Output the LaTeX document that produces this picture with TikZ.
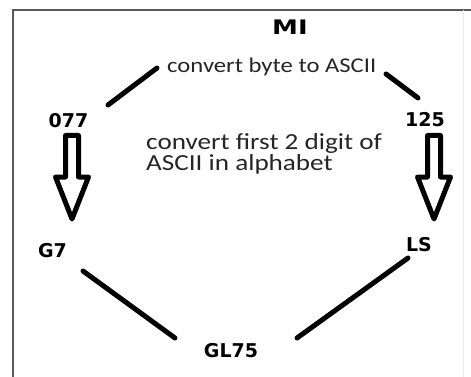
\documentclass[tikz,border=0pt]{standalone}
\usepackage{fontspec}
\setmainfont{Carlito}
\newfontfamily\labfont{DejaVu Sans}
\tikzset{
  lab/.style={font=\labfont\bfseries\fontsize{19}{21}\selectfont, inner sep=0pt, anchor=base},
  txt/.style={inner sep=0pt, transform shape, xscale=1.18, text=black!85},
  conn/.style={line width=5pt, line cap=round},
  blockarrow/.style={line width=5pt, line join=round},
}
\begin{document}
\begin{tikzpicture}[x=1pt,y=-1pt]
\useasboundingbox (0,0) rectangle (471,377);
\fill[white] (0,0) rectangle (471,377);
% frame
\draw[line width=2pt, black!65] (12.5,380) -- (12.5,10) -- (475,10);
\draw[line width=1pt, black!8] (463,10) -- (463,380);
% texts
\node[lab, transform shape, xscale=1.3, font=\labfont\bfseries\fontsize{20}{22}\selectfont] (mi) at (290,35) {MI};
\node[txt, xscale=0.995, anchor=base west, font=\fontsize{21}{22}\selectfont] (cb) at (167,73) {convert byte to ASCII};
\node[txt, anchor=north west, align=left, font=\fontsize{23}{21.5}\selectfont] (cf) at (146,133) {convert first 2 digit of\\ASCII in alphabet};
\node[lab] (a077) at (68.5,128) {077};
\node[lab] (a125) at (425,127) {125};
\node[lab] (g7) at (52.5,257) {G7};
\node[lab] (ls) at (419,251) {LS};
\node[lab] (gl) at (231,357) {GL75};
% connector end points
\coordinate (tl1) at (108,105);
\coordinate (tl2) at (157,68);
\coordinate (tr1) at (386,74);
\coordinate (tr2) at (418,98);
\coordinate (bl1) at (83,271);
\coordinate (bl2) at (175,338);
\coordinate (br1) at (297,338);
\coordinate (br2) at (408,258);
\draw[conn] (tl1) -- (tl2);
\draw[conn] (tr1) -- (tr2);
\draw[conn] (bl1) -- (bl2);
\draw[conn] (br1) -- (br2);
% hollow block arrows
\foreach \c in {72,434}{
  \draw[blockarrow] (\c-6.5,135.5) -- (\c+6.5,135.5) -- (\c+6.5,177) -- (\c+16.5,177)
    -- (\c,219) -- (\c-16.5,177) -- (\c-6.5,177) -- cycle;
}
\end{tikzpicture}
\end{document}
